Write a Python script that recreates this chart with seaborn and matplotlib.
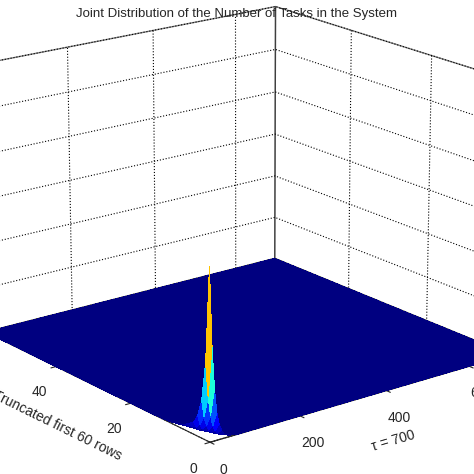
import numpy as np
import matplotlib.pyplot as plt
import seaborn as sns
from matplotlib import cm

sns.set_style("white")
plt.rcParams['font.family'] = ['Liberation Sans', 'DejaVu Sans']

# marginal profiles (probability mass near origin)
tau_vals = [0, 5, 10, 15, 20, 25, 30, 40, 50, 60]
tau_prof = [1.0, 0.55, 0.30, 0.16, 0.09, 0.05, 0.025, 0.01, 0.004, 0.0]
row_vals = [0, 1, 2, 3, 4, 6, 8, 10, 12, 15]
row_prof = [1.0, 0.45, 0.22, 0.12, 0.07, 0.035, 0.015, 0.006, 0.002, 0.0]
peak = 0.11

x = np.arange(0, 701, 5)
y = np.arange(0, 61, 1)
px = np.interp(x, tau_vals, tau_prof, right=0)
py = np.interp(y, row_vals, row_prof, right=0)
X, Y = np.meshgrid(x, y)
Z = peak * np.outer(py, px)

fig = plt.figure(figsize=(4.74, 4.74), dpi=100)
ax = fig.add_axes([-0.12, -0.10, 1.24, 1.28], projection='3d')
ax.plot_surface(X, Y, Z, cmap=cm.jet, rstride=1, cstride=1, linewidth=0.3,
                edgecolor='none', antialiased=False, vmin=0, vmax=peak * 0.8)
ax.set_xlim(0, 700)
ax.set_ylim(0, 60)
ax.set_zlim(0, 0.18)
ax.set_xticks([0, 200, 400, 600])
ax.set_yticks([0, 20, 40])
ax.set_zticks([0, 0.03, 0.06, 0.09, 0.12, 0.15, 0.18])
ax.set_zticklabels([])
ax.set_xlabel('τ = 700', fontsize=10, rotation=0)
ax.set_ylabel('Truncated first 60 rows', fontsize=10, rotation=0)
ax.view_init(elev=18, azim=-128)
for a in (ax.xaxis, ax.yaxis, ax.zaxis):
    a.pane.fill = False
    a.pane.set_edgecolor('black')
    a._axinfo['grid'].update(color='black', linestyle=':', linewidth=0.8)
ax.tick_params(labelsize=10)
fig.text(0.5, 0.965, 'Joint Distribution of the Number of Tasks in the System',
         ha='center', fontsize=9.5)
fig.savefig('out.png', dpi=100)
